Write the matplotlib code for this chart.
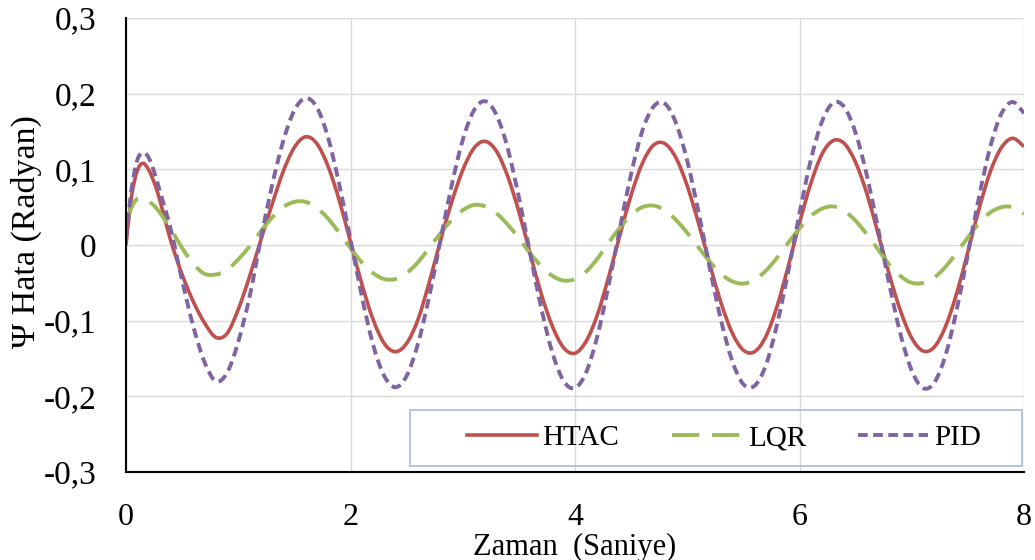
import numpy as np
import matplotlib
matplotlib.use("Agg")
import matplotlib.pyplot as plt
from matplotlib.ticker import FuncFormatter
from matplotlib.path import Path
from matplotlib.patches import PathPatch, Rectangle
from matplotlib.lines import Line2D

# time samples (s)
t = [0, 0.05, 0.1, 0.15, 0.2, 0.25] + list(np.round(np.arange(0.3, 8.001, 0.1), 2))

htac = [0.000, 0.065, 0.098, 0.108, 0.100, 0.083,
        0.060, 0.005, -0.039, -0.075, -0.103, -0.122, -0.117,
        -0.085, -0.042, 0.006, 0.053, 0.097, 0.129, 0.143, 0.134, 0.104, 0.059,
        0.004, -0.051, -0.098, -0.130, -0.141, -0.130, -0.099, -0.050, 0.005, 0.056,
        0.099, 0.128, 0.137, 0.124, 0.091, 0.044, -0.011, -0.065, -0.108, -0.136,
        -0.143, -0.127, -0.092, -0.042, 0.013, 0.066, 0.108, 0.132, 0.134, 0.115,
        0.078, 0.029, -0.025, -0.076, -0.116, -0.139, -0.141, -0.121, -0.081, -0.028,
        0.029, 0.081, 0.120, 0.138, 0.134, 0.109, 0.068, 0.015, -0.039, -0.087,
        -0.123, -0.140, -0.135, -0.108, -0.064, -0.009, 0.048, 0.097, 0.129, 0.141,
        0.130]

lqr = [0.030, 0.050, 0.061, 0.061, 0.058, 0.052,
       0.043, 0.021, -0.004, -0.025, -0.038, -0.039, -0.033,
       -0.019, -0.002, 0.018, 0.036, 0.050, 0.057, 0.057, 0.049, 0.035, 0.016,
       -0.004, -0.023, -0.037, -0.045, -0.045, -0.037, -0.023, -0.004, 0.015, 0.033,
       0.046, 0.053, 0.051, 0.042, 0.027, 0.009, -0.011, -0.028, -0.041, -0.047,
       -0.045, -0.035, -0.018, 0.003, 0.023, 0.040, 0.050, 0.052, 0.046, 0.033,
       0.016, -0.003, -0.022, -0.038, -0.048, -0.051, -0.046, -0.034, -0.017, 0.003,
       0.022, 0.038, 0.048, 0.051, 0.045, 0.032, 0.014, -0.006, -0.026, -0.041,
       -0.050, -0.050, -0.043, -0.029, -0.010, 0.010, 0.029, 0.043, 0.050, 0.050,
       0.041]

pid = [0.010, 0.075, 0.112, 0.122, 0.116, 0.097,
       0.072, 0.020, -0.047, -0.108, -0.155, -0.180, -0.169,
       -0.128, -0.069, 0.007, 0.078, 0.137, 0.178, 0.194, 0.182, 0.142, 0.080,
       0.007, -0.067, -0.131, -0.173, -0.188, -0.173, -0.131, -0.069, 0.005, 0.078,
       0.139, 0.178, 0.190, 0.172, 0.128, 0.063, -0.011, -0.084, -0.143, -0.180,
       -0.189, -0.168, -0.120, -0.053, 0.022, 0.094, 0.151, 0.183, 0.187, 0.161,
       0.111, 0.044, -0.030, -0.099, -0.153, -0.184, -0.186, -0.159, -0.105, -0.035,
       0.042, 0.112, 0.163, 0.188, 0.182, 0.148, 0.092, 0.022, -0.052, -0.118,
       -0.166, -0.189, -0.182, -0.146, -0.086, -0.012, 0.064, 0.130, 0.174, 0.189,
       0.174]

series_names = ["HTAC", "LQR", "PID"]
x_ticks = [0, 2, 4, 6, 8]
y_ticks = [-0.3, -0.2, -0.1, 0, 0.1, 0.2, 0.3]


def smooth_path(x, y):
    # bezier through the data points, like a spreadsheet "smoothed line"
    pts = np.column_stack([x, y])
    n = len(pts)
    verts = [pts[0]]
    codes = [Path.MOVETO]
    for i in range(n - 1):
        p0 = pts[i - 1] if i > 0 else pts[i]
        p1 = pts[i]
        p2 = pts[i + 1]
        p3 = pts[i + 2] if i + 2 < n else pts[i + 1]
        verts += [p1 + (p2 - p0) / 6, p2 - (p3 - p1) / 6, p2]
        codes += [Path.CURVE4] * 3
    return Path(verts, codes)


plt.rcParams['font.family'] = ['Liberation Serif', 'DejaVu Serif']

fig = plt.figure(figsize=(10.35, 5.6), dpi=100)
ax = fig.add_axes([126/1035, 1 - 472/560, 898/1035, 454/560])

styles = [
    dict(color='#C0504D', lw=2.6, ls='-'),
    dict(color='#9BBB59', lw=2.8, ls=(0, (7, 3.3))),
    dict(color='#8064A2', lw=2.8, ls=(0, (2.5, 1.4))),
]
handles = []
for vals, st, name in zip([htac, lqr, pid], styles, series_names):
    ax.add_patch(PathPatch(smooth_path(t, vals), fill=False, edgecolor=st['color'],
                           lw=st['lw'], ls=st['ls'], zorder=3))
    handles.append(Line2D([], [], color=st['color'], lw=st['lw'], ls=st['ls'], label=name))

ax.set_xlim(0, 8)
ax.set_ylim(-0.3, 0.3)
ax.set_xticks(x_ticks)
ax.set_yticks(y_ticks)
ax.xaxis.set_major_formatter(FuncFormatter(lambda v, p: f"{v:g}"))
ax.yaxis.set_major_formatter(FuncFormatter(
    lambda v, p: "0" if abs(v) < 1e-9 else f"{v:.1f}".replace('.', ',')))
ax.tick_params(length=0)
ax.tick_params(axis='y', pad=21, labelsize=24)
ax.tick_params(axis='x', pad=22, labelsize=23)

ax.grid(True, color='#d9d9d9', lw=1)
ax.set_axisbelow(True)
for s in ['top', 'right']:
    ax.spines[s].set_visible(False)
for s in ['left', 'bottom']:
    ax.spines[s].set_color('black')
    ax.spines[s].set_linewidth(1.5)
    ax.spines[s].set_zorder(4)

ax.set_xlabel("Zaman  (Saniye)", fontsize=22, labelpad=1)
ax.set_ylabel("Ψ Hata (Radyan)", fontsize=24.5)
ax.yaxis.set_label_coords(-0.094, 0.529)

# legend box and entries
ax.add_patch(Rectangle(((410 - 126) / 898, (472 - 466) / 454), (1022 - 410) / 898, 56 / 454,
                       transform=ax.transAxes, fill=False, edgecolor='#a8bcd4', lw=1.2,
                       zorder=5, clip_on=False))
ax.legend(handles=handles, loc='center', bbox_to_anchor=((724 - 126) / 898, (472 - 438) / 454),
          ncol=3, fontsize=21, frameon=False, handlelength=2.4, handletextpad=0.2,
          columnspacing=1.8, borderaxespad=0)

fig.savefig("out.png", dpi=100, facecolor='white')
